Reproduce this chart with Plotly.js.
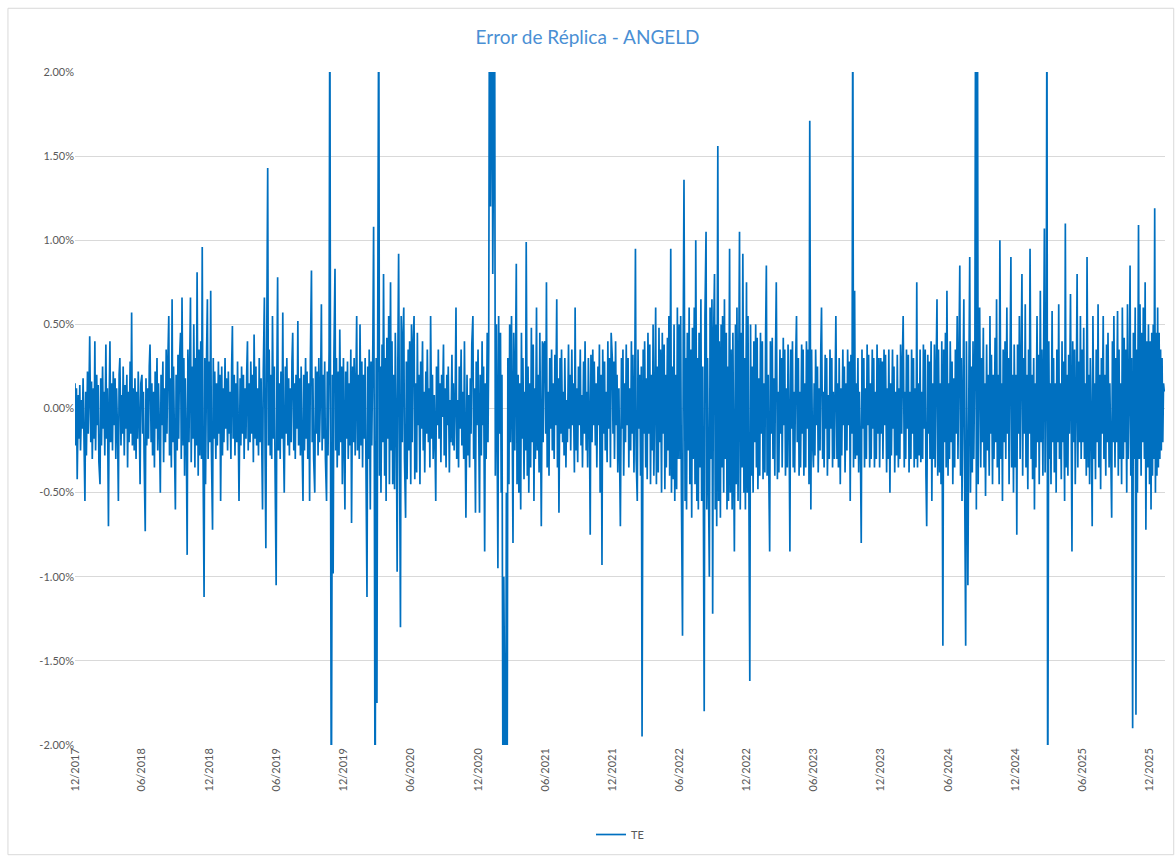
<!DOCTYPE html>
<html><head><meta charset="utf-8">
<script src="https://cdn.plot.ly/plotly-3.0.1.min.js"></script>
<style>html,body{margin:0;padding:0;background:#fff;}#chart{width:1175px;height:859px;}</style>
</head><body><div id="chart"></div>
<script>
// Half-year segment boundaries (each array below covers one segment)
const segmentStarts = ['2017-12-01','2018-06-01','2018-12-01','2019-06-01','2019-12-01','2020-06-01','2020-12-01','2021-06-01','2021-12-01','2022-06-01','2022-12-01','2023-06-01','2023-12-01','2024-06-01','2024-12-01','2025-06-01','2025-12-01','2026-01-12'];
// Tracking error (%)
const te17H2 = [0.15,-0.22,0.12,-0.42,0.08,-0.18,0.14,-0.25,0.05,-0.12, 0.18,-0.20,-0.55,0.10,-0.28,0.22,-0.15,0.08,0.43,-0.20, 0.16,-0.30,0.12,-0.18,0.40,-0.25,0.20,-0.10,0.14,-0.32, -0.45,0.18,-0.22,0.25,-0.12,0.10,-0.28,0.38,-0.18,0.12, -0.70,0.05,0.40,-0.20,0.15,-0.25,0.22,-0.10,0.18,-0.30, 0.12,-0.18,-0.55,0.20,0.30,-0.22,0.08,-0.15,0.25,-0.28, 0.14,-0.12,0.20,-0.35,0.10,-0.20,0.28,-0.15,0.57,-0.22, 0.12,-0.25,0.18,-0.30,0.10,-0.18,0.22,-0.12,-0.45,0.15];
const te18H1 = [0.20,-0.15,0.10,-0.30,-0.73,0.18,-0.22,0.12,-0.18,0.25, 0.38,-0.20,0.15,-0.28,0.10,-0.35,0.22,-0.12,0.30,-0.25, 0.15,-0.18,-0.50,0.20,-0.10,0.28,-0.32,0.12,-0.20,0.35, -0.15,0.22,0.55,-0.28,0.18,-0.35,0.65,-0.20,0.25,-0.30, -0.60,0.20,-0.25,0.32,-0.18,0.28,0.45,-0.30,0.66,-0.22, 0.30,-0.40,0.18,-0.25,-0.87,0.35,-0.20,0.28,0.66,-0.32, 0.25,-0.18,0.50,-0.35,0.30,-0.22,0.81,-0.40,0.35,-0.28, 0.40,-0.30,0.96,-0.25,-1.12,0.30,-0.45,0.35,0.65,-0.30];
const te18H2 = [0.28,-0.20,0.70,-0.25,-0.72,0.30,-0.18,0.22,-0.30,0.15, -0.22,0.28,-0.15,0.20,-0.55,0.25,-0.28,0.12,-0.20,0.30, -0.12,0.18,-0.25,0.22,-0.15,0.10,-0.30,0.25,0.49,-0.18, 0.20,-0.28,0.15,-0.20,0.28,-0.12,-0.55,0.18,-0.22,0.25, -0.15,0.20,-0.30,0.12,-0.18,0.22,0.40,-0.25,0.15,-0.20, 0.28,-0.15,0.20,-0.32,0.44,-0.18,0.25,-0.22,0.12,-0.28, 0.30,-0.20,0.18,-0.25,-0.60,0.22,0.66,-0.30,-0.83,0.25, 1.43,-0.22,0.35,-0.28,0.20,-0.30,0.55,-0.18,0.25,-0.35];
const te19H1 = [-1.05,0.20,0.78,-0.25,0.15,-0.30,0.22,-0.18,0.57,-0.20, -0.50,0.25,-0.15,0.30,-0.22,0.18,-0.28,0.12,-0.20,0.28, 0.45,-0.25,0.15,-0.30,0.20,-0.12,0.52,-0.22,0.18,-0.28, 0.25,-0.15,-0.55,0.20,-0.25,0.30,-0.18,0.22,-0.30,0.15, -0.55,0.28,0.82,-0.20,0.18,-0.30,-0.50,0.25,-0.15,0.22, -0.28,0.30,-0.20,0.15,0.62,-0.25,0.20,-0.18,0.28,-0.30, -0.55,0.22,-0.28,0.35,2.6,-0.30,-2.6,0.20,-0.98,0.30, 0.83,-0.25,0.30,-0.35,0.22,-0.28,0.47,-0.20,0.25,-0.45];
const te19H2 = [0.30,-0.25,-0.60,0.22,-0.18,0.28,-0.30,0.15,-0.22,0.35, -0.68,0.25,-0.20,0.30,-0.28,0.18,0.55,-0.25,0.20,-0.30, 0.50,-0.22,0.28,-0.35,0.20,-0.18,0.30,-0.28,-1.12,0.25, -0.30,0.35,-0.60,0.28,-0.22,0.40,1.08,-0.35,-2.6,0.30, -1.75,0.35,2.6,-0.40,0.25,-0.50,0.38,-0.20,0.80,-0.40, 0.30,-0.55,0.42,-0.18,0.55,-0.45,0.75,-0.25,0.40,-0.45, 0.20,-0.48,0.45,-0.15,-0.97,0.30,0.92,-0.45,-1.30,0.55, -0.20,0.45,0.60,-0.30,-0.65,0.28,-0.42,0.35,-0.25,0.40];
const te20H1 = [-0.45,0.50,-0.20,0.35,0.55,-0.42,0.15,-0.38,0.45,-0.10, 0.20,-0.45,0.28,-0.12,0.40,-0.25,0.10,-0.38,0.22,-0.15, 0.35,-0.20,0.12,-0.35,0.55,-0.18,0.20,-0.30,0.08,-0.22, -0.55,0.25,-0.10,0.35,-0.18,0.15,-0.32,0.20,-0.05,0.38, -0.28,0.12,-0.35,0.20,-0.10,0.25,-0.38,0.05,-0.20,0.32, -0.22,0.15,-0.25,0.10,0.60,-0.30,0.05,-0.35,0.25,-0.12, 0.35,-0.22,0.10,-0.30,0.40,-0.15,-0.65,0.20,-0.28,0.08, -0.35,0.18,-0.15,0.38,0.55,-0.30,0.12,-0.62,0.28,-0.10];
const te20H2 = [0.35,-0.15,-0.62,0.20,-0.28,0.40,-0.10,0.25,-0.85,0.15, -0.30,0.45,-0.20,0.35,2.6,1.2,2.6,2.6,0.8,2.6, 2.6,-0.40,0.50,-0.20,-0.95,0.55,-0.15,0.45,-0.50,0.20, -2.6,-1.0,-2.6,-2.6,-0.5,-2.6,0.30,-0.45,0.50,-0.20, 0.55,-0.15,-0.80,0.45,-0.25,0.30,0.86,-0.45,0.20,-0.50, 0.15,-0.60,0.45,-0.18,0.30,-0.42,0.10,-0.25,0.99,-0.40, 0.25,-0.50,0.15,-0.35,0.48,-0.20,0.38,-0.55,0.12,-0.30, 0.60,-0.25,0.20,-0.38,0.45,-0.12,-0.70,0.40,-0.20,0.38];
const te21H1 = [0.40,-0.15,0.75,-0.35,0.10,-0.40,0.30,-0.12,0.35,-0.25, 0.15,-0.30,0.32,-0.10,0.65,-0.35,0.18,-0.62,0.30,-0.15, 0.35,-0.20,0.10,-0.28,0.30,-0.35,0.05,-0.20,0.38,-0.12, 0.20,-0.25,0.35,-0.10,0.15,-0.38,0.60,-0.25,0.12,-0.32, 0.25,-0.10,0.35,-0.22,0.08,-0.35,0.28,-0.15,0.40,-0.25, 0.10,-0.35,0.30,-0.12,-0.75,0.32,-0.20,0.35,-0.10,0.28, -0.22,0.15,-0.35,0.25,-0.10,0.38,-0.50,0.20,-0.93,0.35, -0.15,0.28,-0.25,0.10,-0.32,0.40,-0.12,0.30,-0.35,0.45];
const te21H2 = [0.30,-0.15,0.28,-0.30,0.40,-0.10,0.20,-0.38,0.12,-0.30, -0.70,0.30,-0.12,0.35,-0.40,0.15,-0.20,0.38,-0.10,0.30, -0.35,0.12,-0.25,0.40,-0.15,0.32,-0.38,0.10,0.95,-0.30, -0.55,0.35,-0.12,0.20,-0.40,0.25,-1.95,0.35,-0.15,0.40, -0.35,0.18,-0.42,0.45,-0.15,0.38,-0.45,0.20,-0.25,0.50, -0.40,0.15,0.60,-0.45,0.25,-0.38,0.48,-0.20,0.35,-0.50, 0.45,-0.15,0.38,-0.48,0.20,-0.35,0.42,-0.25,0.55,-0.40, 0.95,-0.50,0.25,-0.42,0.50,-0.55,0.20,-0.48,0.60,-0.30];
const te22H1 = [0.50,-0.30,0.55,-0.50,-1.35,0.45,1.36,-0.55,0.30,-0.60, 0.45,-0.25,0.60,-0.45,0.35,-0.65,0.48,-0.30,0.60,-0.45, 1.00,-0.55,0.30,-0.60,0.45,-0.35,0.65,-0.55,0.25,-0.70, -1.80,0.55,1.05,-0.60,0.30,-0.55,-1.00,0.60,-0.30,0.65, -1.22,0.35,0.80,-0.60,0.50,-0.70,1.56,-0.55,0.40,-0.65, 0.50,-0.35,0.55,-0.50,0.65,-0.30,0.45,-0.60,0.25,-0.55, 0.95,-0.50,0.35,-0.60,0.45,-0.30,-0.85,0.50,-0.45,0.60, -0.55,0.30,1.05,-0.60,0.45,-0.35,0.92,-0.50,0.30,-0.60];
const te22H2 = [0.75,-0.50,0.55,-0.25,-1.62,0.50,-0.40,0.25,-0.50,0.40, -0.20,0.50,-0.35,0.42,-0.48,0.18,-0.40,0.45,-0.15,0.40, -0.42,0.15,-0.38,0.45,0.85,-0.40,0.20,-0.45,-0.85,0.40, -0.15,0.42,-0.30,0.18,-0.40,0.35,0.75,-0.42,0.10,-0.38, 0.35,-0.15,0.30,-0.35,0.42,-0.10,0.35,-0.40,0.12,-0.35, 0.38,-0.15,-0.85,0.35,-0.12,0.40,-0.35,0.10,-0.38,0.32, 0.55,-0.20,0.30,-0.40,0.10,-0.35,0.38,-0.15,0.35,-0.40, 0.15,-0.35,0.40,-0.12,0.35,-0.45,1.71,-0.60,0.35,-0.15];
const te23H1 = [-0.35,0.15,-0.28,0.35,-0.10,0.25,-0.38,0.12,-0.25,0.35, 0.60,-0.30,0.10,-0.35,0.32,-0.12,0.30,-0.40,0.08,-0.30, 0.35,-0.12,0.30,-0.35,0.10,-0.30,0.38,0.55,-0.30,0.15, -0.35,0.30,-0.45,0.12,-0.28,0.35,-0.10,0.25,-0.38,0.15, -0.25,0.35,-0.10,0.28,-0.55,0.32,-0.15,2.6,-0.35,0.70, -0.30,0.15,-0.28,0.30,-0.38,0.10,-0.30,-0.80,0.35,-0.12, 0.30,-0.35,0.12,-0.30,0.38,-0.10,0.32,-0.35,0.15,-0.30, 0.35,-0.12,0.30,-0.35,0.10,-0.30,0.38,-0.15,0.30,-0.35];
const te23H2 = [0.30,-0.15,0.28,-0.30,0.35,-0.10,0.32,-0.38,0.12,-0.30, 0.35,-0.50,0.15,-0.28,0.35,-0.12,0.25,-0.38,0.10,-0.28, 0.32,-0.35,0.12,-0.30,0.38,-0.15,0.30,0.55,-0.35,0.10, -0.30,0.35,-0.12,0.32,-0.38,0.10,-0.30,0.35,-0.15,0.30, -0.35,0.12,-0.30,0.75,-0.35,0.15,-0.28,0.35,-0.32,0.10, -0.30,0.38,-0.12,0.35,-0.40,-0.70,0.32,-0.15,0.28,-0.30, 0.40,-0.55,0.15,-0.30,0.38,-0.35,0.12,0.65,-0.40,0.35, -0.38,0.15,-0.45,0.40,-1.41,0.35,-0.20,0.45,-0.35,0.70];
const te24H1 = [-0.40,0.15,-0.30,0.40,-0.20,0.28,-0.45,0.18,-0.35,0.35, -0.15,0.55,-0.30,0.20,0.85,-0.40,0.30,-0.55,0.20,0.65, -0.35,-1.41,0.40,-0.30,-1.05,0.25,0.90,-0.50,0.25,-0.38, 0.40,-0.30,0.35,2.6,-0.60,2.6,-0.45,0.25,0.60,-0.35, 0.30,-0.20,0.48,-0.35,0.15,-0.52,0.38,-0.25,0.20,-0.40, 0.55,-0.15,0.32,-0.45,0.20,-0.30,0.42,-0.20,0.65,-0.35, 0.20,-0.45,1.00,-0.30,0.15,-0.55,0.35,-0.20,0.40,-0.30, 0.60,-0.15,0.30,-0.45,0.25,0.90,-0.35,0.20,-0.50,0.38];
const te24H2 = [-0.35,0.20,-0.75,0.38,-0.15,0.55,-0.30,0.20,0.80,-0.40, 0.30,-0.15,0.62,-0.35,0.20,-0.48,0.35,-0.15,0.95,-0.30, 0.20,-0.42,0.30,-0.60,0.15,-0.35,0.55,-0.20,0.32,-0.45, 0.70,-0.20,0.35,-0.40,0.15,1.07,-0.38,0.30,2.6,-2.6, 0.40,-0.30,0.15,-0.45,0.58,-0.20,0.30,-0.38,0.15,-0.50, 0.35,-0.20,0.62,-0.30,0.15,-0.42,0.40,-0.20,0.28,-0.55, 1.10,-0.35,0.20,-0.40,0.32,-0.15,0.68,-0.30,-0.85,0.40, -0.20,0.35,-0.45,0.15,0.80,-0.35,0.28,-0.20,0.55,-0.30];
const te25H1 = [0.35,-0.20,0.48,-0.30,0.15,-0.40,0.90,-0.35,0.20,-0.45, 0.30,-0.20,-0.70,0.55,-0.30,0.15,-0.42,0.35,-0.20,0.62, -0.35,0.20,-0.48,0.30,-0.15,0.55,-0.30,0.20,-0.40,0.38, -0.20,0.45,-0.35,0.15,-0.30,-0.65,0.40,-0.20,0.55,-0.35, 0.30,-0.20,0.58,-0.40,0.35,-0.30,0.15,-0.45,0.60,-0.30, 0.42,-0.20,0.35,-0.50,0.62,-0.30,0.15,0.85,-0.40,0.30, -1.90,0.45,-0.30,0.60,-1.82,0.35,-0.50,1.09,-0.30,0.62, -0.40,0.45,-0.20,0.60,-0.30,0.75,-0.72,0.40,-0.35,0.50];
const te25H2 = [-0.45,0.40,-0.60,0.45,-0.40,0.50,-0.30,1.19,-0.50,0.45,-0.40,0.60,-0.35,0.45,-0.30,0.35,-0.25,0.30,-0.20,0.15,0.10];

const tickDates = ['2017-12-01','2018-06-01','2018-12-01','2019-06-01','2019-12-01','2020-06-01','2020-12-01','2021-06-01','2021-12-01','2022-06-01','2022-12-01','2023-06-01','2023-12-01','2024-06-01','2024-12-01','2025-06-01','2025-12-01'];
const tickLabels = ['12/2017','06/2018','12/2018','06/2019','12/2019','06/2020','12/2020','06/2021','12/2021','06/2022','12/2022','06/2023','12/2023','06/2024','12/2024','06/2025','12/2025'];
const yTicks = [-2,-1.5,-1,-0.5,0,0.5,1,1.5,2];
const yTickLabels = yTicks.map(v => v.toFixed(2) + '%');

const segments = [te17H2,te18H1,te18H2,te19H1,te19H2,te20H1,te20H2,te21H1,te21H2,te22H1,te22H2,te23H1,te23H2,te24H1,te24H2,te25H1,te25H2];
const xs = [], ys = [];
segments.forEach((seg, k) => {
  const a = new Date(segmentStarts[k] + 'T00:00:00Z').getTime();
  const b = new Date(segmentStarts[k+1] + 'T00:00:00Z').getTime();
  seg.forEach((v, j) => {
    xs.push(new Date(a + (b - a) * j / seg.length).toISOString().slice(0,10));
    ys.push(v);
  });
});

const trace = {x: xs, y: ys, type: 'scatter', mode: 'lines', name: 'TE',
  line: {color: '#0070C0', width: 1.7}, hoverinfo: 'skip'};

const layout = {
  width: 1175, height: 859,
  margin: {l: 75, r: 10, t: 72, b: 111},
  paper_bgcolor: '#fff', plot_bgcolor: '#fff',
  font: {family: 'Lato, "Open Sans", sans-serif', color: '#595959', size: 11},
  title: {text: 'Error de Réplica - ANGELD', font: {size: 19, color: '#4a8fd4', family: 'Lato, "Open Sans", sans-serif'}, x: 0.5, xanchor: 'center', y: 0.957, yanchor: 'middle'},
  xaxis: {type: 'date', range: ['2017-12-01', segmentStarts[segmentStarts.length-1]],
    tickmode: 'array', tickvals: tickDates, ticktext: tickLabels, tickangle: -90, showgrid: false,
    zeroline: false, showline: false, ticks: '', tickfont: {size: 11, color: '#595959'}, automargin: false},
  yaxis: {range: [-2, 2], tickmode: 'array', tickvals: yTicks, ticktext: yTickLabels,
    showgrid: true, gridcolor: '#d9d9d9', gridwidth: 1, zeroline: false, showline: false,
    ticks: '', tickfont: {size: 11, color: '#595959'}, automargin: false},
  showlegend: true,
  legend: {orientation: 'h', x: 0.5, xanchor: 'center', y: -0.133, yanchor: 'middle', font: {size: 11, color: '#595959'}},
  shapes: [{type: 'rect', xref: 'paper', yref: 'paper', x0: -0.0615, x1: 1.008, y0: -0.163, y1: 1.0947,
    line: {color: '#d9d9d9', width: 1}, fillcolor: 'rgba(0,0,0,0)', layer: 'below'}]
};
Plotly.newPlot('chart', [trace], layout, {displayModeBar: false, staticPlot: true});
</script></body></html>
